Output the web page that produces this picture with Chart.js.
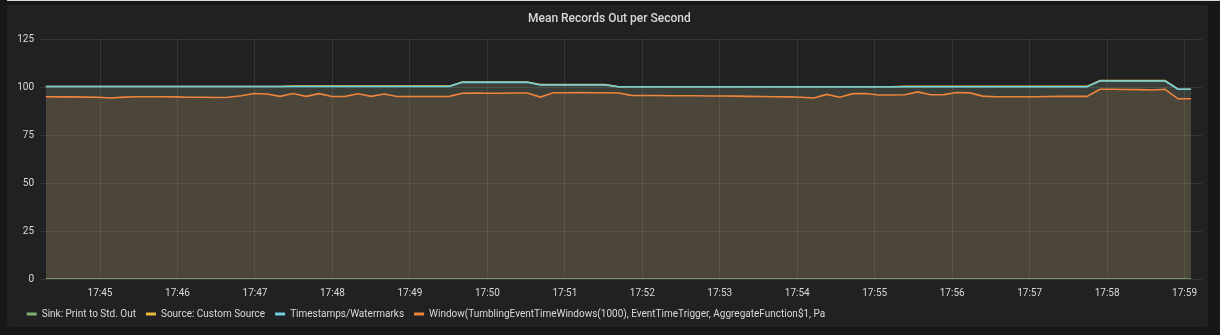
<!DOCTYPE html>
<html>
<head>
<meta charset="utf-8">
<title>Mean Records Out per Second</title>
<script src="https://cdn.jsdelivr.net/npm/chart.js@4/dist/chart.umd.min.js"></script>
<style>
    html, body {
        margin: 0;
        padding: 0;
        width: 1220px;
        height: 335px;
        background: #161719;
        overflow: hidden;
    }
    .top-edge {
        position: absolute;
        left: 7px;
        top: 0;
        width: 1213px;
        height: 1px;
        background: #d8d9da;
    }
    .panel {
        position: absolute;
        left: 7px;
        top: 5px;
        width: 1201px;
        height: 322px;
        background: #212124;
        border-radius: 2px;
    }
    .chart-box {
        position: absolute;
        left: 7px;
        top: 5px;
        width: 1201px;
        height: 324px;
    }
</style>
</head>
<body>
<div class="top-edge"></div>
<div class="panel"></div>
<div class="chart-box">
    <canvas id="recordsChart"></canvas>
</div>
<script>
// Data (one sample roughly every 10s)
const sampleStart = '17:44:18';
const sampleStepSec = 10.08;
const rangeStart = '17:44:13.5';
const rangeEnd = '17:59:13.5';

const minuteTicks = ['17:45', '17:46', '17:47', '17:48', '17:49', '17:50', '17:51', '17:52',
    '17:53', '17:54', '17:55', '17:56', '17:57', '17:58', '17:59'];
const yTicks = [0, 25, 50, 75, 100, 125];

const seriesNames = [
    'Sink: Print to Std. Out',
    'Source: Custom Source',
    'Timestamps/Watermarks',
    'Window(TumblingEventTimeWindows(1000), EventTimeTrigger, AggregateFunction$1, Pa'
];
const seriesColors = ['#7eb26d', '#eab839', '#6ed0e0', '#ef843c'];

const sinkValues = [
    0, 0, 0, 0, 0, 0, 0, 0, 0, 0, 0, 0, 0, 0, 0, 0, 0, 0, 0, 0,
    0, 0, 0, 0, 0, 0, 0, 0, 0, 0, 0, 0, 0, 0, 0, 0, 0, 0, 0, 0,
    0, 0, 0, 0, 0, 0, 0, 0, 0, 0, 0, 0, 0, 0, 0, 0, 0, 0, 0, 0,
    0, 0, 0, 0, 0, 0, 0, 0, 0, 0, 0, 0, 0, 0, 0, 0, 0, 0, 0, 0,
    0, 0, 0, 0, 0, 0, 0, 0, 0
];

const sourceValues = [
    100.4, 100.4, 100.4, 100.4, 100.4, 100.4, 100.4, 100.4, 100.4, 100.4,
    100.4, 100.4, 100.4, 100.4, 100.4, 100.4, 100.4, 100.4, 100.4, 100.6,
    100.6, 100.6, 100.6, 100.6, 100.6, 100.6, 100.6, 100.6, 100.6, 100.6,
    100.6, 100.6, 102.8, 102.8, 102.8, 102.8, 102.8, 102.8, 101.4, 101.4,
    101.4, 101.4, 101.4, 101.4, 100.3, 100.3, 100.3, 100.3, 100.3, 100.3,
    100.3, 100.3, 100.3, 100.3, 100.3, 100.3, 100.3, 100.3, 100.3, 100.3,
    100.3, 100.3, 100.3, 100.3, 100.3, 100.3, 100.5, 100.5, 100.5, 100.5,
    100.5, 100.5, 100.5, 100.5, 100.5, 100.5, 100.5, 100.5, 100.5, 100.5,
    100.5, 103.5, 103.5, 103.5, 103.5, 103.5, 103.5, 99.0, 99.0
];

const timestampValues = [
    100.4, 100.4, 100.4, 100.4, 100.4, 100.4, 100.4, 100.4, 100.4, 100.4,
    100.4, 100.4, 100.4, 100.4, 100.4, 100.4, 100.4, 100.4, 100.4, 100.4,
    100.4, 100.4, 100.4, 100.4, 100.4, 100.4, 100.4, 100.4, 100.4, 100.4,
    100.4, 100.4, 102.6, 102.6, 102.6, 102.6, 102.6, 102.6, 101.2, 101.2,
    101.2, 101.2, 101.2, 101.2, 100.3, 100.3, 100.3, 100.3, 100.3, 100.3,
    100.3, 100.3, 100.3, 100.3, 100.3, 100.3, 100.3, 100.3, 100.3, 100.3,
    100.3, 100.3, 100.3, 100.3, 100.3, 100.3, 100.3, 100.3, 100.3, 100.3,
    100.3, 100.3, 100.3, 100.3, 100.3, 100.3, 100.3, 100.3, 100.3, 100.3,
    100.3, 103.3, 103.3, 103.3, 103.3, 103.3, 103.3, 99.0, 99.0
];

const windowValues = [
    95.1, 95.0, 95.0, 94.9, 94.8, 94.4, 94.9, 95.1, 95.1, 95.1,
    95.0, 94.8, 94.8, 94.7, 94.8, 95.6, 96.8, 96.5, 95.3, 96.8,
    95.3, 96.7, 95.2, 95.3, 96.6, 95.3, 96.5, 95.2, 95.2, 95.2,
    95.2, 95.3, 96.9, 97.0, 96.9, 96.9, 97.0, 97.0, 94.9, 97.2,
    97.2, 97.3, 97.2, 97.2, 97.0, 95.8, 95.7, 95.7, 95.6, 95.6,
    95.6, 95.5, 95.5, 95.4, 95.3, 95.2, 95.1, 95.0, 94.8, 94.4,
    96.3, 94.8, 96.7, 96.8, 96.0, 96.0, 96.1, 97.6, 96.1, 96.2,
    97.3, 97.1, 95.4, 95.1, 95.1, 95.1, 95.1, 95.2, 95.3, 95.3,
    95.3, 99.0, 99.0, 98.9, 98.8, 98.6, 99.0, 94.0, 94.0
];

// Helpers
function toSeconds(clock) {
    const parts = clock.split(':').map(Number);
    return parts[0] * 3600 + parts[1] * 60 + (parts[2] || 0);
}

function formatClock(sec) {
    const h = Math.floor(sec / 3600);
    const m = Math.round((sec - h * 3600) / 60);
    return `${h}:${String(m).padStart(2, '0')}`;
}

function toPoints(values) {
    const start = toSeconds(sampleStart);
    return values.map((v, i) => ({ x: start + i * sampleStepSec, y: v }));
}

function hexToRgba(hex, alpha) {
    const n = parseInt(hex.slice(1), 16);
    return `rgba(${(n >> 16) & 255}, ${(n >> 8) & 255}, ${n & 255}, ${alpha})`;
}

// Build datasets; draw order: Source, Timestamps, Window, then the flat Sink line on top
const allValues = [sinkValues, sourceValues, timestampValues, windowValues];
const drawOrder = [0, 3, 2, 1];
const datasets = allValues.map((values, i) => ({
    label: seriesNames[i],
    data: toPoints(values),
    borderColor: seriesColors[i],
    backgroundColor: hexToRgba(seriesColors[i], 0.1),
    borderWidth: 1.6,
    fill: i === 0 ? false : 'origin',
    pointRadius: 0,
    tension: 0,
    order: drawOrder[i]
}));

const textColor = '#d8d9da';
const gridColor = 'rgba(255, 255, 255, 0.09)';

Chart.defaults.font.family = 'Roboto, "Helvetica Neue", Arial, sans-serif';
Chart.defaults.font.size = 10;
Chart.defaults.color = textColor;

new Chart(document.getElementById('recordsChart'), {
    type: 'line',
    data: { datasets },
    options: {
        responsive: true,
        maintainAspectRatio: false,
        animation: false,
        layout: {
            padding: { left: 9.7, right: 6, top: 0, bottom: 0 }
        },
        scales: {
            x: {
                type: 'linear',
                min: toSeconds(rangeStart),
                max: toSeconds(rangeEnd),
                grid: { color: gridColor, drawTicks: false },
                border: { display: false },
                afterBuildTicks: (axis) => {
                    axis.ticks = minuteTicks.map(label => ({ value: toSeconds(label) }));
                },
                afterFit: (axis) => {
                    axis.height = 20;
                },
                ticks: {
                    color: textColor,
                    padding: 8,
                    maxRotation: 0,
                    autoSkip: false,
                    callback: (value) => formatClock(value)
                }
            },
            y: {
                min: 0,
                max: 125,
                grid: { color: gridColor, drawTicks: false },
                border: { display: false },
                afterBuildTicks: (axis) => {
                    axis.ticks = yTicks.map(v => ({ value: v }));
                },
                afterFit: (axis) => {
                    axis.width = 23.3;
                },
                ticks: {
                    color: textColor,
                    padding: 6
                }
            }
        },
        plugins: {
            title: {
                display: true,
                text: 'Mean Records Out per Second',
                color: textColor,
                font: { size: 12, weight: '500' },
                padding: { top: 7, bottom: 13 }
            },
            legend: {
                position: 'bottom',
                align: 'start',
                labels: {
                    color: textColor,
                    boxWidth: 10,
                    boxHeight: 3,
                    padding: 10,
                    font: { size: 10 },
                    generateLabels: (chart) => chart.data.datasets.map((ds, i) => ({
                        text: ds.label,
                        fillStyle: seriesColors[i],
                        strokeStyle: seriesColors[i],
                        fontColor: textColor,
                        lineWidth: 0,
                        hidden: false,
                        datasetIndex: i
                    }))
                }
            },
            tooltip: { enabled: false }
        }
    }
});
</script>
</body>
</html>
